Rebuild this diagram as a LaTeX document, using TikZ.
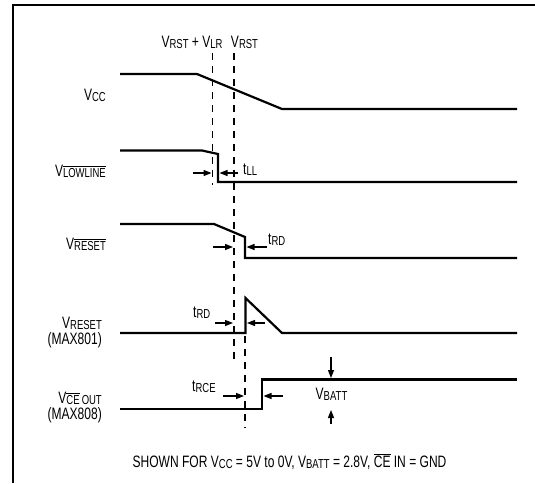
\documentclass[tikz,border=0pt]{standalone}
\usepackage{fontspec}
\setmainfont{Liberation Sans}[FakeStretch=0.73]
\usetikzlibrary{arrows.meta}

\newcommand{\sub}[1]{\raisebox{-1pt}{\fontsize{13}{13}\selectfont #1}}
\newcommand{\ovl}[1]{$\overline{\mbox{#1}}$}

\tikzset{
  wave/.style={line width=2.2pt, line join=miter},
  guide/.style={line width=1.2pt, dash pattern=on 7pt off 6pt},
  dimarrow/.style={line width=1.3pt, -{Triangle[length=8pt,width=6pt]}},
  lbl/.style={inner sep=0pt, anchor=base east},
  txt/.style={inner sep=0pt, anchor=base},
  ttxt/.style={inner sep=0pt, anchor=base west},
}

\begin{document}
\begin{tikzpicture}[x=1pt, y=-1pt, font=\fontsize{16.5}{17}\selectfont]
  \useasboundingbox (0,0) rectangle (535,483);
  \draw[line width=2.2pt] (535,5) -- (12.7,5) -- (12.7,483);  % frame

  % threshold guides
  \coordinate (d1top) at (212.7,53);  \coordinate (d1bot) at (212.7,185);
  \coordinate (d2top) at (234,53);    \coordinate (d2bot) at (234,365);
  \coordinate (d3top) at (245,336);   \coordinate (d3bot) at (245,428);
  \draw[guide] (d1top) -- (d1bot);
  \draw[guide] (d2top) -- (d2bot);
  \draw[guide] (d3top) -- (d3bot);
  \node[txt] (vlr) at (192,47) {V\sub{RST} + V\sub{LR}};
  \node[txt] (vrst0) at (244.5,47) {V\sub{RST}};

  % waveforms
  \draw[wave] (120,74) -- (197,74) -- (282,109) -- (517,109);                 % VCC
  \draw[wave] (120,150.5) -- (202,150.5) -- (218,154) -- (218,182) -- (517,182); % LOWLINE
  \draw[wave] (120,224) -- (214,224) -- (245,237) -- (245,258) -- (517,258);  % RESET bar
  \draw[wave] (120,333) -- (245.5,333) -- (245.5,298) -- (282,333) -- (517,333); % RESET
  \draw[wave] (120,409) -- (262,409) -- (262,379.5) -- (517,379.5);          % CE OUT

  % signal names
  \node[lbl] (vcc) at (106,100) {V\sub{CC}};
  \node[lbl] (vlow) at (106,176) {V\sub{\ovl{LOWLINE}}};
  \node[lbl] (vrstb) at (106,249) {V\sub{\ovl{RESET}}};
  \node[lbl] (vrst) at (102,328) {V\sub{RESET}};
  \node[lbl] (max801) at (102,344) {(MAX801)};
  \node[lbl] (vce) at (102,403) {V\sub{\ovl{CE}\,OUT}};
  \node[lbl] (max808) at (102,419) {(MAX808)};

  % tLL
  \coordinate (tlla) at (193,173);   \coordinate (tllb) at (211.5,173);
  \coordinate (tllc) at (238,173);   \coordinate (tlld) at (219.5,173);
  \draw[dimarrow] (tlla) -- (tllb);
  \draw[dimarrow] (tllc) -- (tlld);
  \node[ttxt] (tll) at (243,174) {t\sub{LL}};

  % tRD (RESET bar)
  \coordinate (rda) at (213,247);    \coordinate (rdb) at (233,247);
  \coordinate (rdc) at (267,247);    \coordinate (rdd) at (246.5,247);
  \draw[dimarrow] (rda) -- (rdb);
  \draw[dimarrow] (rdc) -- (rdd);
  \node[ttxt] (trd) at (268,244) {t\sub{RD}};

  % tRD (RESET)
  \coordinate (rdpa) at (215,323);   \coordinate (rdpb) at (233,323);
  \coordinate (rdpc) at (265,323);   \coordinate (rdpd) at (247,323);
  \draw[dimarrow] (rdpa) -- (rdpb);
  \draw[dimarrow] (rdpc) -- (rdpd);
  \node[ttxt] (trdp) at (193,317) {t\sub{RD}};

  % tRCE
  \coordinate (rcea) at (223,396);   \coordinate (rceb) at (244,396);
  \coordinate (rcec) at (283,396);   \coordinate (rced) at (263.5,396);
  \draw[dimarrow] (rcea) -- (rceb);
  \draw[dimarrow] (rcec) -- (rced);
  \node[ttxt] (trce) at (192,391) {t\sub{RCE}};

  % VBATT
  \coordinate (vba) at (331,357);    \coordinate (vbb) at (331,378);
  \coordinate (vbc) at (331,424);    \coordinate (vbd) at (331,410);
  \draw[dimarrow] (vba) -- (vbb);
  \draw[dimarrow] (vbc) -- (vbd);
  \node[txt] (vbatt) at (331.5,399) {V\sub{BATT}};

  \node[txt] (note) at (289.5,467) {SHOWN FOR V\sub{CC} = 5V to 0V, V\sub{BATT} = 2.8V, \ovl{CE} IN = GND};
\end{tikzpicture}
\end{document}
